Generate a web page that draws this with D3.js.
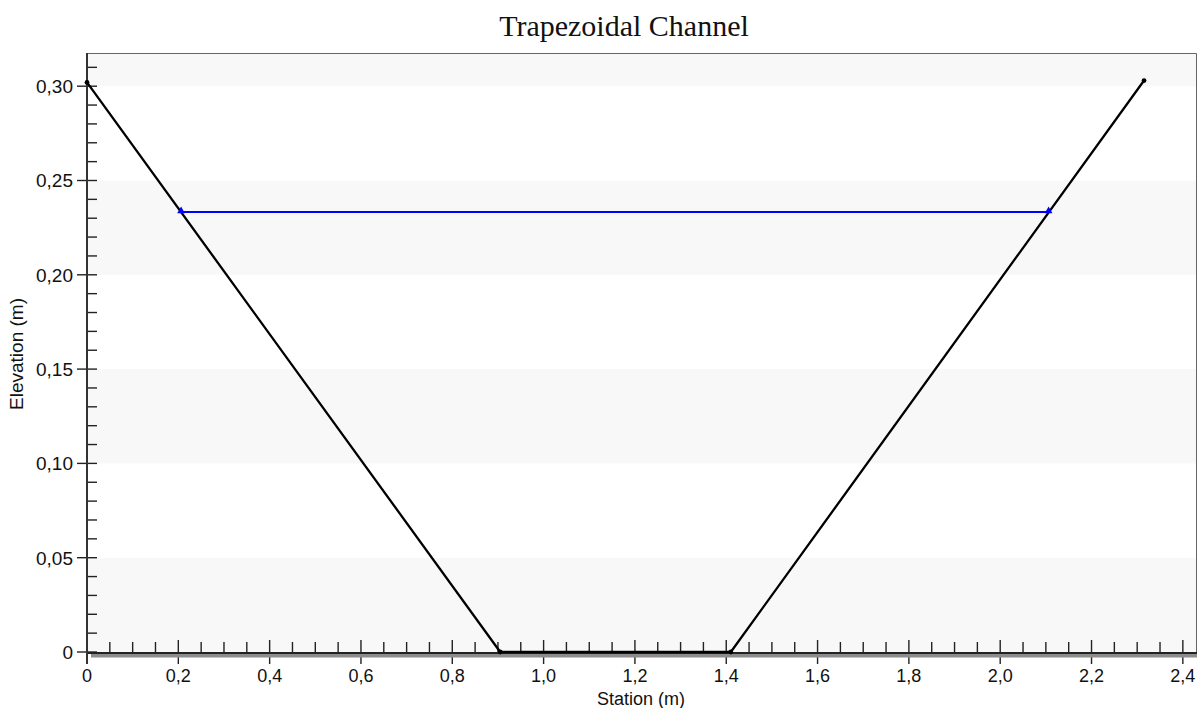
<!DOCTYPE html>
<html>
<head>
<meta charset="utf-8">
<script src="https://cdn.jsdelivr.net/npm/d3@7"></script>
<style>
  html, body { margin: 0; padding: 0; background: #fff; }
  svg { display: block; }
</style>
</head>
<body>
<svg id="chart" width="1198" height="708"></svg>
<script>
// ---- data ----
const station = [0, 0.905, 1.41, 2.315];
const elevation = [0.302, 0, 0, 0.303];
const waterStation = [0.206, 2.106];
const waterElevation = [0.2333, 0.2333];
const xTicks = [0, 0.2, 0.4, 0.6, 0.8, 1.0, 1.2, 1.4, 1.6, 1.8, 2.0, 2.2, 2.4];
const xTickLabels = ["0", "0,2", "0,4", "0,6", "0,8", "1,0", "1,2", "1,4", "1,6", "1,8", "2,0", "2,2", "2,4"];
const yTicks = [0, 0.05, 0.10, 0.15, 0.20, 0.25, 0.30];
const yTickLabels = ["0", "0,05", "0,10", "0,15", "0,20", "0,25", "0,30"];
const titleText = "Trapezoidal Channel";
const xLabel = "Station (m)";
const yLabel = "Elevation (m)";

// ---- layout ----
const L = 87, R = 1197, T = 53, B = 652;
const svg = d3.select("#chart");
const x = d3.scaleLinear().domain([0, 2.431]).range([L, R]);
const y = d3.scaleLinear().domain([0, 0.3176]).range([B, T]);

// background bands
const bandEdges = yTicks.concat([y.domain()[1]]);
const bands = [];
for (let i = 0; i < bandEdges.length - 1; i++) {
  bands.push({ y0: bandEdges[i], y1: bandEdges[i + 1], shade: i % 2 === 0 });
}
svg.append("g").selectAll("rect").data(bands).join("rect")
  .attr("x", L + 1).attr("width", R - L - 1)
  .attr("y", d => y(d.y1)).attr("height", d => y(d.y0) - y(d.y1))
  .attr("fill", d => d.shade ? "#f8f8f8" : "#ffffff");

// plot border (top, right)
svg.append("path")
  .attr("d", `M${L},${T + 0.5}H${R - 0.5}V${B}`)
  .attr("fill", "none").attr("stroke", "#666").attr("stroke-width", 1);

// minor ticks
const xMinor = d3.range(0, 2.431, 0.05).filter(v => Math.abs(v * 5 - Math.round(v * 5)) > 1e-6);
const yMinor = d3.range(0, 0.3176, 0.01).filter(v => Math.abs(v * 20 - Math.round(v * 20)) > 1e-6);

const tickG = svg.append("g").attr("stroke", "#222").attr("stroke-width", 1.4);
tickG.selectAll(".xm").data(xMinor).join("line")
  .attr("x1", d => x(d)).attr("x2", d => x(d))
  .attr("y1", B - 10).attr("y2", B);
tickG.selectAll(".xM").data(xTicks).join("line")
  .attr("x1", d => x(d)).attr("x2", d => x(d))
  .attr("y1", d => d === 0 ? B : B - 12).attr("y2", B + 12);
tickG.selectAll(".ym").data(yMinor).join("line")
  .attr("y1", d => y(d)).attr("y2", d => y(d))
  .attr("x1", L).attr("x2", L + 10);
tickG.selectAll(".yM").data(yTicks).join("line")
  .attr("y1", d => y(d)).attr("y2", d => y(d))
  .attr("x1", L - 10).attr("x2", L + 10);

// x axis line with shadow
svg.append("line").attr("x1", L + 4).attr("x2", R).attr("y1", B + 3.5).attr("y2", B + 3.5)
  .attr("stroke", "#8c8c8c").attr("stroke-width", 4);
svg.append("line").attr("x1", L).attr("x2", R).attr("y1", B + 1).attr("y2", B + 1)
  .attr("stroke", "#222").attr("stroke-width", 2);
// y axis line
svg.append("line").attr("x1", L).attr("x2", L).attr("y1", T).attr("y2", B + 12)
  .attr("stroke", "#333").attr("stroke-width", 2);

// tick labels
svg.append("g").selectAll("text").data(xTicks).join("text")
  .attr("x", d => x(d)).attr("y", 682)
  .attr("text-anchor", "middle")
  .attr("font-family", "Liberation Sans, Arial, sans-serif").attr("font-size", 18)
  .attr("fill", "#111")
  .text((d, i) => xTickLabels[i]);
svg.append("g").selectAll("text").data(yTicks).join("text")
  .attr("x", 73).attr("y", d => y(d) + 7)
  .attr("text-anchor", "end")
  .attr("font-family", "Liberation Sans, Arial, sans-serif").attr("font-size", 19)
  .attr("fill", "#111")
  .text((d, i) => yTickLabels[i]);

// axis titles
svg.append("text").attr("x", 641).attr("y", 705)
  .attr("text-anchor", "middle")
  .attr("font-family", "Liberation Sans, Arial, sans-serif").attr("font-size", 18)
  .attr("fill", "#111").text(xLabel);
svg.append("text")
  .attr("transform", "translate(23,354) rotate(-90)")
  .attr("text-anchor", "middle")
  .attr("font-family", "Liberation Sans, Arial, sans-serif").attr("font-size", 19)
  .attr("fill", "#111").text(yLabel);

// title
svg.append("text").attr("x", 624).attr("y", 36)
  .attr("text-anchor", "middle")
  .attr("font-family", "Liberation Serif, Times New Roman, serif").attr("font-size", 30)
  .attr("fill", "#111").text(titleText);

// channel line
const chan = station.map((s, i) => [s, elevation[i]]);
const line = d3.line().x(d => x(d[0])).y(d => y(d[1]));
svg.append("path").datum(chan).attr("d", line)
  .attr("fill", "none").attr("stroke", "#000").attr("stroke-width", 2.3)
  .attr("stroke-linejoin", "round");
svg.append("g").selectAll("circle").data(chan).join("circle")
  .attr("cx", d => x(d[0])).attr("cy", d => y(d[1])).attr("r", 2.4).attr("fill", "#000");

// water surface
const water = waterStation.map((s, i) => [s, waterElevation[i]]);
svg.append("path").datum(water).attr("d", line)
  .attr("fill", "none").attr("stroke", "#0000ff").attr("stroke-width", 2.2);
svg.append("g").selectAll("path.tri").data(water).join("path")
  .attr("d", d3.symbol().type(d3.symbolTriangle).size(26))
  .attr("transform", d => `translate(${x(d[0])},${y(d[1]) - 1})`)
  .attr("fill", "#0000ff");
</script>
</body>
</html>
